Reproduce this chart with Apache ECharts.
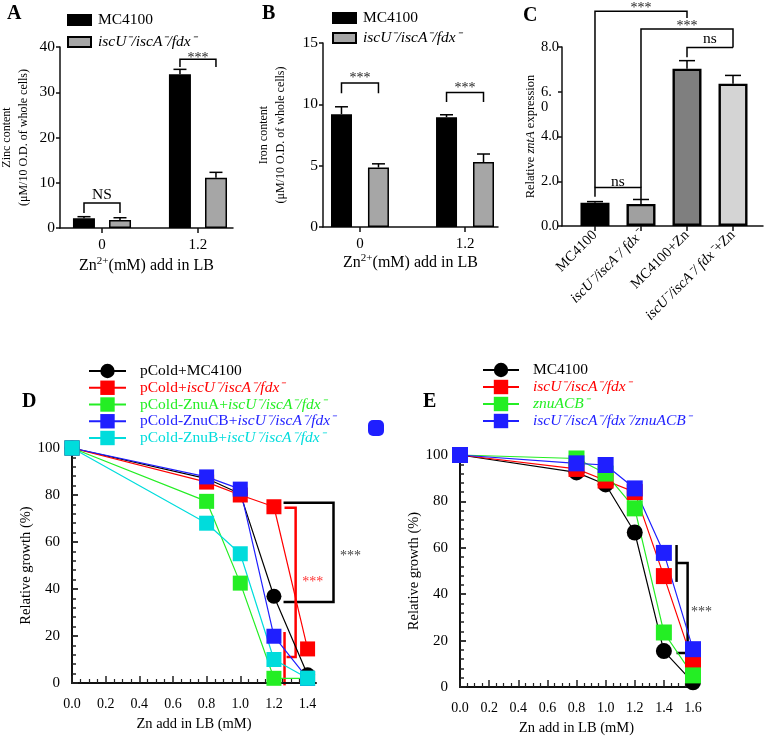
<!DOCTYPE html>
<html>
<head>
<meta charset="utf-8">
<script src="https://cdn.jsdelivr.net/npm/echarts@6/dist/echarts.min.js"></script>
<style>
  html, body { margin: 0; padding: 0; background: #fff; }
  #chart { width: 765px; height: 738px; }
</style>
</head>
<body>
<div id="chart"></div>
<script>
const FONT = 'Liberation Serif'

// A / B: metal content, two Zn groups (0 and 1.2 mM)
const groupX = [0, 1]
const groupLabels = ['0', '1.2']
const zincWT = [2.14, 33.96]
const zincWTErr = [0.36, 1.1]
const zincMut = [1.77, 11.1]
const zincMutErr = [0.5, 1.2]
const ironWT = [9.2, 8.95]
const ironWTErr = [0.6, 0.2]
const ironMut = [4.85, 5.3]
const ironMutErr = [0.3, 0.65]

// C: relative zntA expression
const zntX = [0, 1, 2, 3]
const zntLabels = ['MC4100', '{i|iscU⁻/iscA⁻/ fdx⁻}', 'MC4100+Zn', '{i|iscU⁻/iscA⁻/ fdx⁻}+Zn']
const zntValues = [1.04, 0.985, 7.03, 6.36]
const zntErr = [0.05, 0.2, 0.36, 0.37]
const zntColors = ['#000000', '#a0a0a0', '#7f7f7f', '#d4d4d4']

// D: growth with plasmids
const dZn = [0, 0.8, 1.0, 1.2, 1.4]
const dWT = [100, 87, 80.5, 36.9, 3.5]
const dMut = [100, 85.5, 80, 75, 14.5]
const dZnuA = [100, 77.3, 42.5, 2, 2]
const dZnuCB = [100, 87.7, 82.5, 19.9, 2]
const dZnuB = [100, 68, 55, 10, 2]

// E: growth of deletion strains
const eZn = [0, 0.8, 1.0, 1.2, 1.4, 1.6]
const eWT = [100, 92.5, 87.3, 66.6, 15.5, 2]
const eMut = [100, 94, 89, 84, 47.8, 10.4]
const eZnu = [100, 98.5, 92, 77, 23.5, 5]
const eMutZnu = [100, 96.4, 95.7, 85.6, 57.8, 16.3]

// significance brackets in data coordinates: [grid, points, colour]
const brackets = [
  [0, [[-0.1875, 3.3], [-0.1875, 5.5], [0.1875, 5.5], [0.1875, 3.3]], '#000'],
  [0, [[0.8125, 35.6], [0.8125, 37.3], [1.1875, 37.3], [1.1875, 35.6]], '#000'],
  [1, [[-0.176, 10.9], [-0.176, 11.73], [0.176, 11.73], [0.176, 10.9]], '#000'],
  [1, [[0.824, 10.2], [0.824, 10.97], [1.176, 10.97], [1.176, 10.2]], '#000'],
  [2, [[0, 1.31], [0, 1.72], [1, 1.72], [1, 1.21]], '#000'],
  [2, [[0, 1.72], [0, 9.6], [2, 9.6], [2, 9.3]], '#000'],
  [2, [[1, 1.72], [1, 8.8], [3, 8.8], [3, 7.98]], '#000'],
  [2, [[2, 7.54], [2, 7.98], [3, 7.98]], '#000'],
  [3, [[1.257, 76.7], [1.554, 76.7], [1.554, 34.5], [1.257, 34.5]], '#000'],
  [3, [[1.263, 74.6], [1.329, 74.6], [1.329, 11.1], [1.275, 11.1]], '#f00'],
  [3, [[1.263, 21.7], [1.263, -1]], '#f00'],
  [4, [[1.487, 61.2], [1.487, 45.3]], '#000'],
  [4, [[1.487, 53.4], [1.563, 53.4], [1.563, 14.7], [1.487, 14.7]], '#000'],
]
const sigLabels = [
  [0, [0, 7.3], 'NS', '#000'],
  [0, [1, 37.6], '***', '#222'],
  [1, [0, 12.08], '***', '#222'],
  [1, [1, 11.27], '***', '#222'],
  [2, [0.5, 1.98], 'ns', '#000'],
  [2, [1, 9.72], '***', '#222'],
  [2, [2, 8.92], '***', '#222'],
  [2, [2.5, 8.35], 'ns', '#000'],
  [3, [1.655, 53.7], '***', '#444'],
  [3, [1.43, 43], '***', '#f33'],
  [4, [1.659, 32.3], '***', '#444'],
]

const RED = '#ff0000', GREEN = '#24ee24', BLUE = '#1f1fff', CYAN = '#00dcdc'
const MUT = 'iscU⁻/iscA⁻/fdx⁻'

const legendText = {
  'A-wt': '{n|MC4100}', 'A-mut': '{ni|' + MUT + '}',
  'B-wt': '{n|MC4100}', 'B-mut': '{ni|' + MUT + '}',
  'D-wt': '{n|pCold+MC4100}',
  'D-mut': '{r|pCold+}{ri|' + MUT + '}',
  'D-a': '{g|pCold-ZnuA+}{gi|' + MUT + '}',
  'D-cb': '{b|pCold-ZnuCB+}{bi|' + MUT + '}',
  'D-b': '{c|pCold-ZnuB+}{ci|' + MUT + '}',
  'E-wt': '{n|MC4100}',
  'E-mut': '{ri|' + MUT + '}',
  'E-znu': '{gi|znuACB⁻}',
  'E-both': '{bi|' + MUT + '/znuACB⁻}',
}

function font(size, color, italic, lineHeight) {
  return { fontFamily: FONT, fontSize: size, fontStyle: italic ? 'italic' : 'normal', color, lineHeight }
}
function legendRich(size, lh) {
  return {
    n: font(size, '#000', false, lh), ni: font(size, '#000', true, lh),
    r: font(size, RED, false, lh), ri: font(size, RED, true, lh),
    g: font(size, GREEN, false, lh), gi: font(size, GREEN, true, lh),
    b: font(size, BLUE, false, lh), bi: font(size, BLUE, true, lh),
    c: font(size, CYAN, false, lh), ci: font(size, CYAN, true, lh),
  }
}

const chart = echarts.init(document.getElementById('chart'))

const axisLine = (w) => ({ show: true, onZero: false, lineStyle: { color: '#111', width: w } })
const txt = (size) => ({ fontFamily: FONT, fontSize: size, color: '#000' })

function barXAxis(g, min, max, gap) {
  return {
    gridIndex: g, type: 'value', min, max,
    axisLine: axisLine(1.5),
    axisTick: { show: true, customValues: groupX, length: 5, lineStyle: { color: '#111', width: 1.5 } },
    axisLabel: { customValues: groupX, formatter: (v) => groupLabels[Math.round(v)], margin: 10, ...txt(15) },
    splitLine: { show: false },
    name: 'Zn{sup|2+}(mM) add in LB', nameLocation: 'middle', nameGap: gap,
    nameTextStyle: { ...txt(16), lineHeight: 20, rich: { sup: { fontFamily: FONT, fontSize: 11, verticalAlign: 'top' } } },
  }
}

function barYAxis(g, max, interval, name, gap) {
  return {
    gridIndex: g, type: 'value', min: 0, max, interval,
    axisLine: axisLine(1.5),
    axisTick: { show: true, length: 4, lineStyle: { color: '#111', width: 1.5 } },
    axisLabel: { margin: 5, ...txt(15.5) },
    splitLine: { show: false },
    name, nameLocation: 'middle', nameGap: gap,
    nameTextStyle: { ...txt(12), lineHeight: 17 },
  }
}

function growthXAxis(g, max, labels) {
  return {
    gridIndex: g, type: 'value', min: 0, max, interval: 0.2,
    axisLine: axisLine(2),
    axisTick: { show: true, inside: true, customValues: labels, length: 7, lineStyle: { color: '#222', width: 1.5 } },
    minorTick: { show: true, splitNumber: 4, length: 4, lineStyle: { color: '#222', width: 1.2 } },
    axisLabel: { customValues: labels, formatter: (v) => v.toFixed(1), margin: 14, ...txt(14) },
    splitLine: { show: false },
    name: 'Zn add in LB (mM)', nameLocation: 'middle', nameGap: 34,
    nameTextStyle: txt(14.5),
  }
}

function growthYAxis(g, gap) {
  return {
    gridIndex: g, type: 'value', min: 0, max: 100, interval: 20,
    axisLine: axisLine(2),
    axisTick: { show: true, inside: true, length: 6, lineStyle: { color: '#222', width: 1.8 } },
    minorTick: { show: true, splitNumber: 5, length: 4, lineStyle: { color: '#222', width: 1.5 } },
    axisLabel: { margin: 12, ...txt(15) },
    splitLine: { show: false },
    name: 'Relative growth (%)', nameLocation: 'middle', nameGap: gap,
    nameTextStyle: txt(14.5),
  }
}

function errorSeries(g, xs, vals, errs, dx, cap) {
  return {
    type: 'custom', xAxisIndex: g, yAxisIndex: g, clip: false, z: 3,
    data: xs.map((x, i) => [x, vals[i], vals[i] + errs[i]]),
    renderItem: (params, api) => {
      const a = api.coord([api.value(0), api.value(1)])
      const b = api.coord([api.value(0), api.value(2)])
      const x = a[0] + dx
      const st = { stroke: '#000', lineWidth: 1.5 }
      return {
        type: 'group',
        children: [
          { type: 'line', shape: { x1: x, y1: a[1], x2: x, y2: b[1] }, style: st },
          { type: 'line', shape: { x1: x - cap / 2, y1: b[1], x2: x + cap / 2, y2: b[1] }, style: st },
        ],
      }
    },
  }
}

function barSeries(name, g, xs, vals, color, width, gap) {
  return {
    name, type: 'bar', xAxisIndex: g, yAxisIndex: g,
    data: xs.map((x, i) => [x, vals[i]]),
    barWidth: width, barGap: gap,
    itemStyle: { color, borderColor: '#000', borderWidth: 1.5 },
  }
}

function growthLine(name, g, xs, ys, color, symbol, size) {
  return {
    name, type: 'line', xAxisIndex: g, yAxisIndex: g,
    data: xs.map((x, i) => [x, ys[i]]),
    symbol, symbolSize: size, clip: false,
    lineStyle: { color, width: 1.2 },
    itemStyle: { color },
  }
}

function barLegend(names, left, top, gap) {
  return {
    data: names, orient: 'vertical', left, top, itemGap: gap, padding: 0,
    itemWidth: 23, itemHeight: 10, icon: 'rect', selectedMode: false,
    formatter: (n) => legendText[n],
    textStyle: { ...txt(15.5), lineHeight: 17, padding: [0, 0, 0, 2], rich: legendRich(15.5, 17) },
  }
}

function lineLegend(names, left, top, gap, width) {
  return {
    data: names, orient: 'vertical', left, top, itemGap: gap, padding: 0,
    itemWidth: width, itemHeight: 18, selectedMode: false,
    formatter: (n) => legendText[n],
    textStyle: { ...txt(15.5), lineHeight: 16, padding: [0, 0, 0, 9], rich: legendRich(15.5, 16) },
  }
}

const dTicks = [0, 0.2, 0.4, 0.6, 0.8, 1.0, 1.2, 1.4]

const option = {
  animation: false,
  backgroundColor: '#fff',
  textStyle: { fontFamily: FONT },
  grid: [
    { left: 60, top: 47, width: 173, height: 181, outerBoundsMode: 'none' },
    { left: 323, top: 43, width: 175, height: 184, outerBoundsMode: 'none' },
    { left: 562, top: 47, width: 201, height: 179, outerBoundsMode: 'none' },
    { left: 72, top: 448, width: 244, height: 235, outerBoundsMode: 'none' },
    { left: 460, top: 455, width: 233, height: 232, outerBoundsMode: 'none' },
  ],
  xAxis: [
    barXAxis(0, -0.4375, 1.365, 28),
    barXAxis(1, -0.352, 1.314, 20),
    {
      gridIndex: 2, type: 'value', min: -0.717, max: 3.652,
      axisLine: axisLine(1.5),
      axisTick: { show: true, customValues: zntX, length: 5, lineStyle: { color: '#111', width: 1.5 } },
      axisLabel: {
        customValues: zntX, rotate: 45, margin: 7, ...txt(14.5),
        formatter: (v) => zntLabels[Math.round(v)],
        rich: { i: font(14.5, '#000', true) },
      },
      splitLine: { show: false },
    },
    growthXAxis(3, 1.45, dTicks),
    growthXAxis(4, 1.6, [0, 0.2, 0.4, 0.6, 0.8, 1.0, 1.2, 1.4, 1.6]),
  ],
  yAxis: [
    barYAxis(0, 40, 10, 'Zinc content\n(μM/10 O.D. of whole cells)', 28),
    barYAxis(1, 15, 5, 'Iron content\n(μM/10 O.D. of whole cells)', 34),
    {
      ...barYAxis(2, 8, 2, 'Relative {i|zntA} expression', 21),
      axisLabel: {
        margin: 3, ...txt(14.5),
        // the source figure wraps this one tick label onto two lines
        formatter: (v) => (v === 6 ? '\n{w|6.}\n{w|0}' : v.toFixed(1)),
        rich: { w: { ...txt(14.5), width: 18, align: 'left' } },
      },
      nameTextStyle: { ...txt(12.5), rich: { i: font(12.5, '#000', true) } },
    },
    growthYAxis(3, 37),
    growthYAxis(4, 30),
  ],
  legend: [
    barLegend(['A-wt', 'A-mut'], 67, 11.5, 5),
    barLegend(['B-wt', 'B-mut'], 332, 9.5, 3),
    lineLegend(['D-wt', 'D-mut', 'D-a', 'D-cb', 'D-b'], 88, 363, 0.75, 37),
    lineLegend(['E-wt', 'E-mut', 'E-znu', 'E-both'], 482, 362, 1, 36),
  ],
  series: [
    barSeries('A-wt', 0, groupX, zincWT, '#000', 22, '64%'),
    barSeries('A-mut', 0, groupX, zincMut, '#a6a6a6', 22, '64%'),
    errorSeries(0, groupX, zincWT, zincWTErr, -18, 13),
    errorSeries(0, groupX, zincMut, zincMutErr, 18, 13),

    barSeries('B-wt', 1, groupX, ironWT, '#000', 21, '76%'),
    barSeries('B-mut', 1, groupX, ironMut, '#a6a6a6', 21, '76%'),
    errorSeries(1, groupX, ironWT, ironWTErr, -18.5, 13),
    errorSeries(1, groupX, ironMut, ironMutErr, 18.5, 13),

    {
      name: 'C', type: 'bar', xAxisIndex: 2, yAxisIndex: 2, barWidth: 29,
      data: zntX.map((x, i) => ({ value: [x, zntValues[i]], itemStyle: { color: zntColors[i] } })),
      itemStyle: { borderColor: '#000', borderWidth: 2.4 },
    },
    errorSeries(2, zntX, zntValues, zntErr, 0, 16),

    growthLine('D-wt', 3, dZn, dWT, '#000', 'circle', 15),
    growthLine('D-mut', 3, dZn, dMut, RED, 'rect', 15),
    growthLine('D-a', 3, dZn, dZnuA, GREEN, 'rect', 15),
    growthLine('D-cb', 3, dZn, dZnuCB, BLUE, 'rect', 15),
    growthLine('D-b', 3, dZn, dZnuB, CYAN, 'rect', 15),

    growthLine('E-wt', 4, eZn, eWT, '#000', 'circle', 16),
    growthLine('E-mut', 4, eZn, eMut, RED, 'rect', 16),
    growthLine('E-znu', 4, eZn, eZnu, GREEN, 'rect', 16),
    growthLine('E-both', 4, eZn, eMutZnu, BLUE, 'rect', 16),
  ],
}

chart.setOption(option)

// brackets, stars and panel letters, placed through the axes
const px = (g, p) => chart.convertToPixel({ gridIndex: g }, p)
const graphics = []
brackets.forEach(([g, pts, color]) => {
  graphics.push({
    type: 'polyline', silent: true,
    shape: { points: pts.map((p) => px(g, p)) },
    style: { stroke: color, lineWidth: g >= 3 ? 2.5 : 1.5, fill: null },
  })
})
sigLabels.forEach(([g, p, text, color]) => {
  const [x, y] = px(g, p)
  graphics.push({
    type: 'text', x, y, silent: true,
    style: { text, fill: color, font: (text === '***' ? 14 : 15.5) + 'px ' + FONT, align: 'center', verticalAlign: 'middle' },
  })
})
;[['A', 7, 4], ['B', 262, 4], ['C', 523, 6], ['D', 22, 392], ['E', 423, 392]].forEach(([t, x, y]) => {
  graphics.push({ type: 'text', x, y, style: { text: t, font: 'bold 20px ' + FONT, fill: '#000' } })
})
graphics.push({ type: 'rect', shape: { x: 368, y: 420, width: 16, height: 16, r: 5 }, style: { fill: BLUE } })

chart.setOption({ graphic: graphics })
</script>
</body>
</html>
